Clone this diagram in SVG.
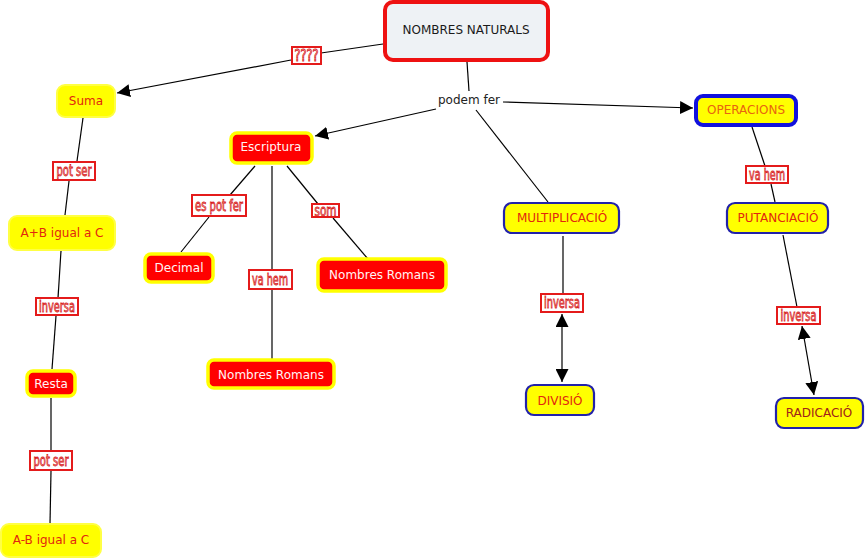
<svg xmlns="http://www.w3.org/2000/svg" width="867" height="559" viewBox="0 0 867 559">
<defs>
<marker id="ah" viewBox="0 0 10 10" refX="10" refY="5" markerWidth="13" markerHeight="13" markerUnits="userSpaceOnUse" orient="auto-start-reverse">
<path d="M0,0 L10,5 L0,10 Z" fill="#000"/>
</marker>
<style>
.main{fill:#eef2f5;stroke:#ee1111;stroke-width:4}
.yel{fill:#ffff00;stroke:#ffff44;stroke-width:2}
.red{fill:#ff0000;stroke:#ffff00;stroke-width:3.5}
.blu{fill:#ffff00;stroke:#2222aa;stroke-width:2.2}
.blu2{fill:#ffff00;stroke:#1111dd;stroke-width:4}
.t{font-family:"DejaVu Sans","Verdana",sans-serif;font-size:12px;text-anchor:middle;dominant-baseline:central}
.tr{fill:#e2260e}
.tw{fill:#fff4f4}
.lab rect{fill:#fff;stroke:#e41b1b;stroke-width:2}
.lab text{font-family:"DejaVu Sans Condensed","Liberation Sans Narrow",sans-serif;font-size:15px;fill:#f6caca;stroke:#d81c1c;stroke-width:0.8;text-anchor:middle;dominant-baseline:central}
.c line{stroke:#000;stroke-width:1.2}
</style>
</defs>
<rect width="867" height="559" fill="#fff"/>
<g id="connectors" class="c">
<line x1="383" y1="44" x2="321" y2="53"/>
<line x1="291" y1="60" x2="117" y2="93" marker-end="url(#ah)"/>
<line x1="467" y1="62" x2="469" y2="91"/>
<line x1="436" y1="109" x2="315" y2="136" marker-end="url(#ah)"/>
<line x1="503" y1="102" x2="693" y2="108" marker-end="url(#ah)"/>
<line x1="476" y1="110" x2="548" y2="202"/>
<line x1="83" y1="118" x2="77" y2="161"/>
<line x1="69" y1="181" x2="65" y2="215"/>
<line x1="61" y1="251" x2="58" y2="298"/>
<line x1="56" y1="316" x2="52" y2="369"/>
<line x1="51" y1="398" x2="51" y2="451"/>
<line x1="51" y1="471" x2="50" y2="524"/>
<line x1="255" y1="166" x2="230" y2="195"/>
<line x1="209" y1="217" x2="181" y2="252"/>
<line x1="272" y1="166" x2="272" y2="270"/>
<line x1="272" y1="290" x2="272" y2="359"/>
<line x1="287" y1="166" x2="318" y2="204"/>
<line x1="333" y1="218" x2="368" y2="259"/>
<line x1="563" y1="236" x2="563" y2="294"/>
<line x1="562" y1="314" x2="562" y2="382" marker-start="url(#ah)" marker-end="url(#ah)"/>
<line x1="752" y1="127" x2="765" y2="166"/>
<line x1="771" y1="184" x2="775" y2="202"/>
<line x1="783" y1="235" x2="797" y2="307"/>
<line x1="802" y1="326" x2="814" y2="395" marker-start="url(#ah)" marker-end="url(#ah)"/>
</g>
<g id="lbl-q" class="lab"><rect x="292" y="47" width="29" height="17"/><text x="306.5" y="56" textLength="24" lengthAdjust="spacingAndGlyphs">????</text></g>
<g id="lbl-podem"><text x="469" y="100" class="t" fill="#222">podem fer</text></g>
<g id="lbl-potser1" class="lab"><rect x="53" y="162" width="42" height="18"/><text x="74" y="171" textLength="35" lengthAdjust="spacingAndGlyphs">pot ser</text></g>
<g id="lbl-inversa1" class="lab"><rect x="36" y="298" width="42" height="17"/><text x="57" y="306.5" textLength="36" lengthAdjust="spacingAndGlyphs">inversa</text></g>
<g id="lbl-potser2" class="lab"><rect x="30" y="451" width="42" height="19"/><text x="51" y="460.5" textLength="35" lengthAdjust="spacingAndGlyphs">pot ser</text></g>
<g id="lbl-espotfer" class="lab"><rect x="192" y="195" width="54" height="21"/><text x="219" y="205.5" textLength="48" lengthAdjust="spacingAndGlyphs">es pot fer</text></g>
<g id="lbl-vahem1" class="lab"><rect x="249" y="270" width="43" height="19"/><text x="270" y="279.5" textLength="36" lengthAdjust="spacingAndGlyphs">va hem</text></g>
<g id="lbl-som" class="lab"><rect x="312" y="204" width="27" height="13"/><text x="325.5" y="210.5" textLength="22" lengthAdjust="spacingAndGlyphs">som</text></g>
<g id="lbl-inversa2" class="lab"><rect x="541" y="294" width="42" height="18"/><text x="562" y="303" textLength="36" lengthAdjust="spacingAndGlyphs">inversa</text></g>
<g id="lbl-vahem2" class="lab"><rect x="746" y="166" width="42" height="17"/><text x="767" y="174.5" textLength="36" lengthAdjust="spacingAndGlyphs">va hem</text></g>
<g id="lbl-inversa3" class="lab"><rect x="777" y="307" width="43" height="17"/><text x="798.5" y="315.5" textLength="36" lengthAdjust="spacingAndGlyphs">inversa</text></g>
<g id="n-nombres"><rect class="main" x="385" y="2" width="163" height="58" rx="8"/><text class="t" x="466" y="30" fill="#1a1a1a">NOMBRES NATURALS</text></g>
<g id="n-suma"><rect class="yel" x="57" y="85" width="58" height="32" rx="8"/><text class="t tr" x="86" y="101">Suma</text></g>
<g id="n-apb"><rect class="yel" x="9" y="216" width="106" height="34" rx="8"/><text class="t tr" x="62" y="233">A+B igual a C</text></g>
<g id="n-resta"><rect class="red" x="27" y="371" width="48" height="25" rx="6"/><text class="t tw" x="51" y="383.5">Resta</text></g>
<g id="n-amb"><rect class="yel" x="1" y="524" width="100" height="33" rx="8"/><text class="t tr" x="51" y="540">A-B igual a C</text></g>
<g id="n-escriptura"><rect class="red" x="231" y="133" width="81" height="30" rx="6"/><text class="t tw" x="271" y="147">Escriptura</text></g>
<g id="n-decimal"><rect class="red" x="145" y="254" width="68" height="28" rx="6"/><text class="t tw" x="179" y="268">Decimal</text></g>
<g id="n-romans1"><rect class="red" x="318" y="259" width="128" height="32" rx="6"/><text class="t tw" x="382" y="275">Nombres Romans</text></g>
<g id="n-romans2"><rect class="red" x="208" y="360" width="126" height="28" rx="6"/><text class="t tw" x="271" y="374.5">Nombres Romans</text></g>
<g id="n-operacions"><rect class="blu2" x="696" y="96" width="100" height="29" rx="7"/><text class="t" x="746" y="110" fill="#e8650f">OPERACIONS</text></g>
<g id="n-multi"><rect class="blu" x="504" y="203" width="115" height="30" rx="8"/><text class="t tr" x="562" y="218">MULTIPLICACIÓ</text></g>
<g id="n-divisio"><rect class="blu" x="526" y="385" width="68" height="30" rx="8"/><text class="t tr" x="560" y="401">DIVISIÓ</text></g>
<g id="n-putan"><rect class="blu" x="727" y="203" width="101" height="30" rx="8"/><text class="t tr" x="778" y="218">PUTANCIACIÓ</text></g>
<g id="n-radic"><rect class="blu" x="776" y="398" width="87" height="30" rx="8"/><text class="t" x="819" y="413" fill="#a0221a">RADICACIÓ</text></g>
</svg>
